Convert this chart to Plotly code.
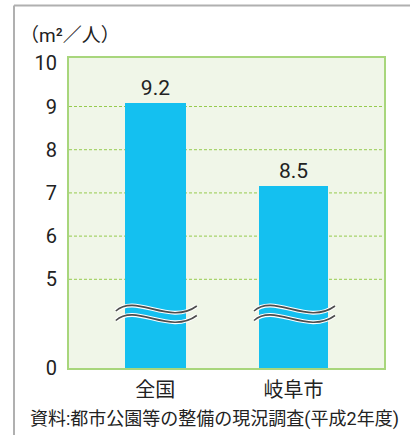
import plotly.graph_objects as go

# ---- data ----
categories = ["全国", "岐阜市"]
value_labels = ["9.2", "8.5"]          # printed values
bar_heights = [9.08, 7.15]             # heights as drawn in the picture
y_tick_values = [0, 5, 6, 7, 8, 9, 10]
y_tick_labels = ["0", "5", "6", "7", "8", "9", "10"]
grid_values = [5, 6, 7, 8, 9]
unit_label = "（m²／人）"
source_note = "資料:都市公園等の整備の現況調査(平成2年度)"

# ---- broken-axis scale (0..5 compressed) ----
Y0 = 2.947      # display position of value 0
def disp(v):
    return v if v >= 5 else Y0 + v * (5 - Y0) / 5.0

YR = [Y0, 10.123]
XR = [-0.6245, 1.655]
W, H = 410, 435
ML, MR, MT, MB = 69, 26, 58, 67
PW, PH = W - ML - MR, H - MT - MB
XPX = PW / (XR[1] - XR[0])
YPX = PH / (YR[1] - YR[0])

FONT = "Roboto, 'Noto Sans CJK JP', sans-serif"
TXT = "#222222"
BAR = "#14C0F0"

xs = list(range(len(categories)))
base = disp(0)
fig = go.Figure(go.Bar(
    x=xs,
    y=[disp(h) - base for h in bar_heights],
    base=base,
    width=[0.441, 0.499],
    marker=dict(color=BAR, line=dict(width=0)),
    text=value_labels,
    textposition="outside",
    textfont=dict(size=21, color=TXT, family=FONT),
    cliponaxis=False,
    hoverinfo="skip",
))

shapes = []
for g in grid_values:
    shapes.append(dict(type="line", xref="paper", yref="y", x0=0, x1=1, y0=disp(g), y1=disp(g),
                       line=dict(color="#96CB4E", width=1, dash="3px,2px"), layer="below"))

# wavy break marks
brk_y = 10.123 - (308 - MT) / YPX
wave = [(-39.5, 3), (-19.5, -15), (14.5, 18), (41.5, -2)]
def wave_path(cx, cy, off):
    pts = [(cx + dx / XPX, cy - (dy + off) / YPX) for dx, dy in wave]
    return "M {:.5f},{:.5f} C {:.5f},{:.5f} {:.5f},{:.5f} {:.5f},{:.5f}".format(
        pts[0][0], pts[0][1], pts[1][0], pts[1][1], pts[2][0], pts[2][1], pts[3][0], pts[3][1])
for i in xs:
    for off in (0, 9.5):
        shapes.append(dict(type="path", xref="x", yref="y", path=wave_path(i, brk_y, off),
                           line=dict(color="white", width=4), layer="above"))
    for off in (0, 9.5):
        shapes.append(dict(type="path", xref="x", yref="y", path=wave_path(i, brk_y, off),
                           line=dict(color="#4d4d4d", width=1.6), layer="above"))

# outer grey frame (top & left)
fx = (14 - ML) / PW
fy = (H - MB - 5.5) / PH
shapes.append(dict(type="line", xref="paper", yref="paper", x0=fx, x1=(W + 10 - ML) / PW, y0=fy, y1=fy,
                   line=dict(color="#B0B0B0", width=2)))
shapes.append(dict(type="line", xref="paper", yref="paper", x0=fx, x1=fx, y0=fy, y1=-(MB + 10) / PH,
                   line=dict(color="#B0B0B0", width=2)))

annotations = [
    dict(text=unit_label, xref="paper", yref="paper", x=(18 - ML) / PW, y=(H - MB - 36) / PH,
         xanchor="left", yanchor="middle", showarrow=False,
         font=dict(size=19, color=TXT, family=FONT)),
    dict(text=source_note, xref="paper", yref="paper", x=(214 - ML) / PW, y=(H - MB - 419) / PH,
         xanchor="center", yanchor="middle", showarrow=False,
         font=dict(size=18, color=TXT, family=FONT)),
]

fig.update_layout(
    width=W, height=H,
    margin=dict(l=ML, r=MR, t=MT, b=MB),
    paper_bgcolor="white",
    plot_bgcolor="#F0F6E8",
    showlegend=False,
    shapes=shapes,
    annotations=annotations,
    font=dict(family=FONT, color=TXT),
    bargap=0,
)
fig.update_xaxes(
    range=XR, tickvals=xs, ticktext=categories, showgrid=False, zeroline=False,
    ticks="", ticklabelstandoff=3, tickfont=dict(size=20, color=TXT, family=FONT),
    showline=True, mirror=True, linecolor="#A8D67C", linewidth=2,
)
fig.update_yaxes(
    range=YR, tickvals=[disp(v) for v in y_tick_values], ticktext=y_tick_labels,
    showgrid=False, zeroline=False, ticks="", ticklabelstandoff=6,
    tickfont=dict(size=20, color=TXT, family=FONT),
    showline=True, mirror=True, linecolor="#A8D67C", linewidth=2,
)

fig.write_html("out.html")
